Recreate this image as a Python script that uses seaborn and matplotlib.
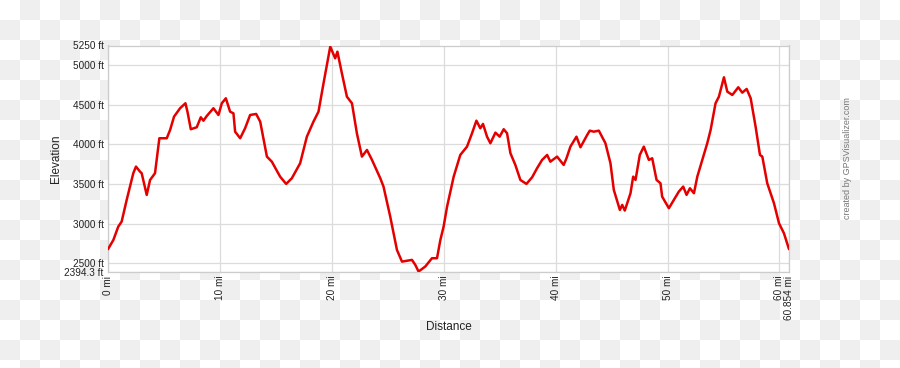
import numpy as np
import pandas as pd
import matplotlib
matplotlib.use("Agg")
import matplotlib.pyplot as plt
import seaborn as sns

# Elevation profile (miles, feet)
distance_mi = [
    0.0, 0.48, 0.92, 1.22, 1.67, 2.26, 2.5, 2.86, 3.01, 3.46, 3.76, 4.2, 4.59,
    5.25, 5.55, 5.9, 6.44, 6.92, 7.1, 7.4, 7.93, 8.29, 8.53, 8.83, 9.42, 9.87,
    10.17, 10.53, 10.91, 11.21, 11.36, 11.81, 12.25, 12.7, 13.24, 13.6, 14.2,
    14.64, 15.38, 15.92, 16.43, 17.17, 17.77, 18.36, 18.81, 19.26, 19.86, 20.3,
    20.5, 20.9, 21.35, 21.8, 22.24, 22.69, 23.14, 23.59, 24.33, 24.62, 25.22,
    25.82, 26.27, 27.16, 27.46, 27.75, 28.35, 28.95, 29.4, 29.7, 29.99, 30.3,
    30.89, 31.48, 32.08, 32.53, 32.92, 33.27, 33.51, 33.87, 34.17, 34.62, 35.0,
    35.36, 35.66, 35.96, 36.4, 36.85, 37.39, 37.9, 38.34, 38.79, 39.24, 39.53,
    40.13, 40.72, 40.97, 41.32, 41.86, 42.22, 42.82, 43.05, 43.41, 43.86, 44.45,
    44.9, 45.2, 45.74, 45.95, 46.18, 46.69, 46.93, 47.14, 47.52, 47.88, 48.33,
    48.63, 49.02, 49.37, 49.52, 50.12, 50.56, 51.01, 51.4, 51.7, 52.0, 52.36,
    52.66, 53.1, 53.55, 53.85, 54.29, 54.59, 55.04, 55.34, 55.79, 56.32, 56.68,
    57.07, 57.43, 57.87, 58.26, 58.47, 58.91, 59.51, 59.96, 60.4, 60.854,
]
elevation_ft = [
    2676, 2793, 2962, 3025, 3299, 3636, 3720, 3656, 3636, 3362, 3551, 3636, 4078,
    4078, 4183, 4351, 4457, 4520, 4414, 4192, 4217, 4343, 4300, 4360, 4457, 4372,
    4520, 4583, 4414, 4393, 4161, 4078, 4204, 4372, 4385, 4288, 3846,
    3782, 3593, 3501, 3573, 3762, 4098, 4288, 4414, 4773, 5235, 5088,
    5172, 4899, 4603, 4520, 4141, 3846, 3930, 3804, 3573, 3467, 3088,
    2667, 2519, 2541, 2478, 2394, 2457, 2562, 2562, 2793, 2962, 3214,
    3593, 3867, 3972, 4141, 4300, 4204, 4259, 4098, 4015, 4149, 4098,
    4192, 4141, 3889, 3741, 3551, 3501, 3585, 3699, 3804, 3867, 3782,
    3846, 3741, 3825, 3972, 4098, 3964, 4120, 4174, 4161, 4174, 4015,
    3762, 3425, 3172, 3236, 3164, 3383, 3593, 3551, 3867, 3972, 3804,
    3825, 3551, 3509, 3340, 3194, 3299, 3404, 3467, 3362, 3446, 3383,
    3593, 3804, 4015, 4183, 4520, 4603, 4848, 4667, 4625, 4722, 4654,
    4701, 4583, 4224, 3867, 3846, 3509, 3257, 3004, 2878, 2676,
]

y_ticks = [2394.3, 2500, 3000, 3500, 4000, 4500, 5000, 5250]
y_tick_labels = ["2394.3 ft", "2500 ft", "3000 ft", "3500 ft", "4000 ft",
                 "4500 ft", "5000 ft", "5250 ft"]
x_ticks = [0, 10, 20, 30, 40, 50, 60, 60.854]
x_tick_labels = ["0 mi", "10 mi", "20 mi", "30 mi", "40 mi", "50 mi",
                 "60 mi", "60.854 mi"]

df = pd.DataFrame({"distance": distance_mi, "elevation": elevation_ft})

sns.set_theme(style="white")
plt.rcParams["font.family"] = ["Liberation Sans", "DejaVu Sans"]

W, H = 900, 368
fig = plt.figure(figsize=(W / 100, H / 100), dpi=100)

# transparent-png checkerboard behind the chart
rows = np.arange(H)[:, None] // 20
cols = np.arange(W)[None, :] // 20
odd = ((rows + cols) % 2).astype(float)
shade = 1.0 - odd * (1.0 - 0xEF / 255)
board = np.dstack([shade, shade, shade])
fig.figimage(board, xo=0, yo=0, origin="upper", zorder=-10)

ax = fig.add_axes([108 / W, 1 - 271.5 / H, 681 / W, 226 / H])
ax.set_facecolor("white")

sns.lineplot(data=df, x="distance", y="elevation", ax=ax,
             color="#e50000", linewidth=1.8, zorder=3)

ax.set_xlim(0, 60.854)
ax.set_ylim(2394.3, 5250)
ax.set_xticks(x_ticks)
ax.set_xticklabels(x_tick_labels, rotation=90, fontsize=7.2, color="#222")
ax.set_yticks(y_ticks)
ax.set_yticklabels(y_tick_labels, fontsize=7.2, color="#222")
ax.tick_params(length=0, pad=3)
ax.grid(True, color="#dcdcdc", linewidth=0.9)

for s in ax.spines.values():
    s.set_color("#cccccc")
    s.set_linewidth(0.9)

ax.set_xlabel("Distance", fontsize=8.5, color="#222")
ax.set_ylabel("Elevation", fontsize=8.5, color="#222")
ax.xaxis.set_label_coords(0.5, -0.219)
ax.yaxis.set_label_coords(-0.067, 0.5)

fig.text(848 / W, 1 - 158 / H, "created by GPSVisualizer.com", rotation=90,
         fontsize=6.5, color="#777", ha="center", va="center")

fig.savefig("out.png", dpi=100)
